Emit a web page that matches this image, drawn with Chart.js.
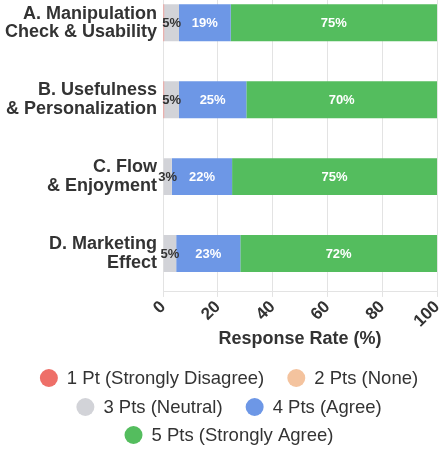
<!DOCTYPE html>
<html>
<head>
<meta charset="utf-8">
<script src="https://cdn.jsdelivr.net/npm/chart.js@4"></script>
<style>
  html, body { margin: 0; padding: 0; background: #fff; overflow: hidden; }
  #wrap { position: absolute; left: 0; top: -40px; width: 445px; height: 495px; }
</style>
</head>
<body>
<div id="wrap"><canvas id="chart1"></canvas></div>
<script>
var categories = [
  ['A. Manipulation', 'Check & Usability'],
  ['B. Usefulness', '& Personalization'],
  ['C. Flow', '& Enjoyment'],
  ['D. Marketing', 'Effect']
];
var seriesNames = ['1 Pt (Strongly Disagree)', '2 Pts (None)', '3 Pts (Neutral)', '4 Pts (Agree)', '5 Pts (Strongly Agree)'];
var pts1 = [0.4, 0.4, 0, 0];
var pts2 = [0, 0, 0, 0];
var pts3 = [5.4, 5.4, 3.2, 4.8];
var pts4 = [18.9, 24.6, 22, 23.4];
var pts5 = [75.3, 69.6, 74.8, 71.8];
var xTicks = [0, 20, 40, 60, 80, 100];

var colours = ['#ee6f68', '#f4c39e', '#d2d3d8', '#6d97e6', '#54bd5e'];
var labelColours = ['#fff', '#333', '#333', '#fff', '#fff'];
var allSeries = [pts1, pts2, pts3, pts4, pts5];
var fam = '"Liberation Sans", Arial, sans-serif';

// which series sit on which legend row
var legendRows = [[0, 1], [2, 3], [4]];

var ctx = document.getElementById('chart1').getContext('2d');

// writes the % inside every segment
var segmentLabels = {
  id: 'segmentLabels',
  afterDatasetsDraw: function(chart) {
    var c = chart.ctx;
    c.save();
    c.textAlign = 'center';
    c.textBaseline = 'middle';
    chart.data.datasets.forEach(function(ds, i) {
      var meta = chart.getDatasetMeta(i);
      meta.data.forEach(function(bar, j) {
        var v = ds.data[j];
        if (v < 1) return;
        c.fillStyle = labelColours[i];
        c.font = (i == 2 ? '600 13px ' : 'bold 13px ') + fam;
        c.fillText(Math.round(v) + '%', (bar.x + bar.base) / 2, bar.y + 1);
      });
    });
    c.restore();
  }
};

// legend drawn by hand so the gaps between items can be wider than the row spacing
var circleLegend = {
  id: 'circleLegend',
  afterDraw: function(chart) {
    var c = chart.ctx;
    var ds = chart.data.datasets;
    var r = 9, textGap = 9, itemGap = 23, centreX = 229;
    var rowY = [chart.height - 77, chart.height - 48, chart.height - 20];
    c.save();
    c.font = '18.5px ' + fam;
    c.textBaseline = 'middle';
    c.textAlign = 'left';
    legendRows.forEach(function(row, k) {
      var widths = row.map(function(i) { return 2 * r + textGap + c.measureText(ds[i].label).width; });
      var total = widths.reduce(function(a, b) { return a + b; }, 0) + itemGap * (row.length - 1);
      var x = centreX - total / 2;
      row.forEach(function(i, n) {
        c.fillStyle = ds[i].backgroundColor;
        c.beginPath();
        c.arc(x + r, rowY[k], r, 0, Math.PI * 2);
        c.fill();
        c.fillStyle = '#333';
        c.fillText(ds[i].label, x + 2 * r + textGap, rowY[k] + 1);
        x += widths[n] + itemGap;
      });
    });
    c.restore();
  }
};

function createChart1() {
  var chart1 = new Chart(ctx, {
    type: 'bar',
    data: {
      labels: categories,
      datasets: allSeries.map(function(d, i) {
        return {
          label: seriesNames[i],
          data: d,
          backgroundColor: colours[i],
          borderWidth: 0,
          barPercentage: 0.96,
          categoryPercentage: 0.5
        };
      })
    },
    options: {
      indexAxis: 'y',
      responsive: true,
      maintainAspectRatio: false,
      animation: false,
      layout: { padding: { right: 8, left: -1, bottom: 99, top: 0 } },
      scales: {
        x: {
          stacked: true,
          min: 0,
          max: 100,
          afterBuildTicks: function(axis) {
            axis.ticks = xTicks.map(function(v) { return { value: v }; });
          },
          afterFit: function(axis) {
            axis.paddingRight = 0;
          },
          grid: { color: '#e3e3e3', tickLength: 5 },
          border: { color: '#e3e3e3' },
          ticks: {
            minRotation: 45,
            maxRotation: 45,
            color: '#333',
            padding: 0,
            font: { family: fam, size: 17, weight: 'bold' }
          },
          title: {
            display: true,
            text: 'Response Rate (%)',
            color: '#333',
            padding: { top: -3, bottom: 6 },
            font: { family: fam, size: 18, weight: 'bold' }
          }
        },
        y: {
          stacked: true,
          grid: { display: false, drawTicks: false },
          border: { display: false },
          ticks: {
            color: '#333',
            padding: 6,
            font: { family: fam, size: 18, weight: 'bold', lineHeight: 1.02 }
          }
        }
      },
      plugins: {
        tooltip: { enabled: false },
        legend: { display: false }
      }
    },
    plugins: [segmentLabels, circleLegend]
  });
}

createChart1();
</script>
</body>
</html>
